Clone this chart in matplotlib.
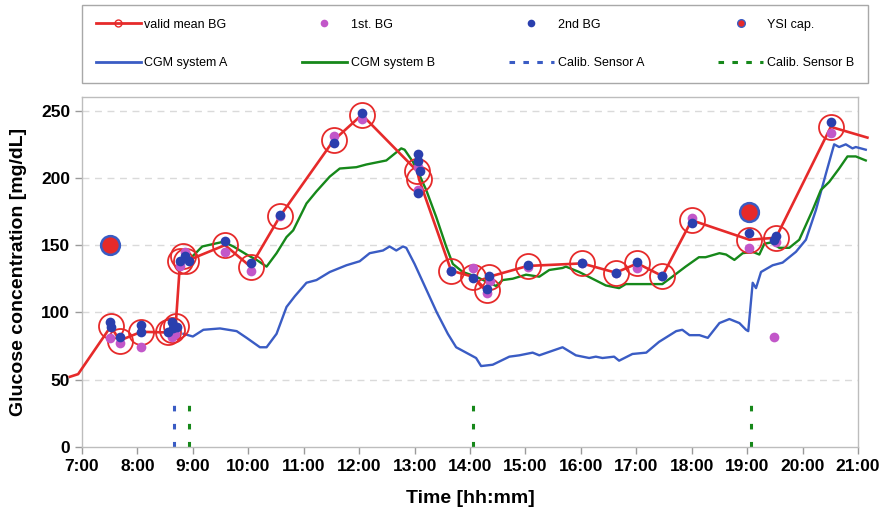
import numpy as np
import matplotlib
matplotlib.use("Agg")
import matplotlib.pyplot as plt
from matplotlib.lines import Line2D

plt.rcParams['font.family'] = ['Liberation Sans', 'DejaVu Sans']
plt.rcParams['lines.scale_dashes'] = False

# time in decimal hours, glucose in mg/dL
mean_t = [7.52, 7.68, 8.07, 8.55, 8.62, 8.69, 8.77, 8.83, 8.87, 9.58, 10.04,
          10.58, 11.54, 12.05, 13.05, 13.08, 13.66, 14.05, 14.30, 14.35, 15.04,
          16.02, 16.63, 17.02, 17.47, 18.00, 19.04, 19.52, 20.51]
mean_v = [89.5, 79, 85.5, 85, 87, 90, 138, 142, 138, 150, 134,
          172, 228, 247, 205, 199, 131, 126.5, 116.6, 126.5, 134.5,
          136.4, 129.5, 136.4, 127, 168.5, 154, 155.5, 238]
# red line runs in from the left and out to the right of the rings
lead_t = [6.78, 6.93]
lead_v = [52, 54]
tail_t = [21.17]
tail_v = [230]

bg1_t = [7.50, 7.69, 8.06, 8.62, 8.67, 8.77, 8.85, 9.58, 10.04, 10.58, 11.54,
         12.05, 13.07, 13.06, 13.66, 14.05, 14.30, 14.36, 15.04, 16.02, 16.63,
         17.02, 17.47, 18.00, 19.04, 19.49, 19.52, 20.51]
bg1_v = [81, 77, 74, 82, 84, 134.5, 145, 145, 131, 172, 231,
         244, 208, 191, 131, 133, 114.6, 123, 134, 137, 129,
         132.7, 127, 170, 148, 82, 152, 233.6]

bg2_t = [7.50, 7.53, 7.68, 8.07, 8.07, 8.555, 8.616, 8.645, 8.706, 8.77, 8.856,
         8.933, 9.58, 10.04, 10.58, 11.54, 12.05, 13.06, 13.06, 13.09, 13.07,
         13.66, 14.05, 14.30, 14.35, 15.04, 16.02, 16.63, 17.02, 17.47, 18.00,
         19.04, 19.49, 19.52, 20.51]
bg2_v = [93, 89, 82, 90.5, 85, 85.6, 93, 88, 89, 138.4, 142,
         138.4, 153, 137, 172.4, 225.7, 248.5, 217.8, 212.8, 205.4, 189,
         131, 125.8, 117.5, 127, 135.2, 136.4, 129.5, 137.7, 127, 166.2,
         159.2, 153.8, 156.8, 241.8]

ysi_t = [7.50, 19.04]
ysi_v = [150, 175]

cgm_a_t = [8.83, 9.00, 9.19, 9.49, 9.79, 9.97, 10.21, 10.33, 10.51, 10.69, 10.84,
           11.05, 11.23, 11.47, 11.77, 12.01, 12.19, 12.43, 12.55, 12.67, 12.79,
           12.85, 13.00, 13.20, 13.40, 13.60, 13.75, 13.93, 14.11, 14.20, 14.41,
           14.71, 14.89, 15.13, 15.25, 15.67, 15.91, 16.15, 16.27, 16.39, 16.60,
           16.69, 16.93, 17.18, 17.41, 17.72, 17.83, 17.96, 18.14, 18.29, 18.50,
           18.68, 18.86, 18.98, 19.02, 19.10, 19.16, 19.25, 19.46, 19.64, 19.88,
           20.06, 20.24, 20.42, 20.57, 20.66, 20.78, 20.90, 20.96, 21.14]
cgm_a_v = [84, 82, 87, 88, 86, 81, 74, 74, 84, 104, 112,
           122, 124, 130, 135, 138, 144, 146, 149, 146, 149,
           148, 136, 118, 100, 84, 74, 70, 66, 60, 61,
           67, 68, 70, 68, 74, 68, 66, 67, 66, 67,
           64, 69, 70, 78, 86, 87, 83, 83, 81, 92,
           95, 92, 87, 86, 122, 118, 130, 135, 137, 145,
           154, 176, 203, 225, 223, 225, 222, 223, 221]

cgm_b_t = [8.90, 9.05, 9.17, 9.55, 9.73, 9.97, 10.15, 10.33, 10.51, 10.69, 10.81,
           11.05, 11.23, 11.47, 11.65, 11.95, 12.13, 12.37, 12.49, 12.64, 12.76,
           12.82, 12.97, 13.09, 13.21, 13.39, 13.57, 13.69, 13.87, 14.11, 14.29,
           14.47, 14.59, 14.77, 15.01, 15.25, 15.43, 15.67, 15.73, 15.97, 16.21,
           16.45, 16.69, 16.81, 17.17, 17.47, 17.65, 17.89, 18.13, 18.25, 18.50,
           18.62, 18.77, 18.92, 19.10, 19.22, 19.31, 19.43, 19.58, 19.76, 19.94,
           20.18, 20.33, 20.48, 20.66, 20.81, 20.96, 21.14]
cgm_b_v = [138, 144, 149, 152.5, 149, 143, 139, 134, 144, 156, 161,
           181, 190, 201, 207, 208, 210, 212, 213, 218, 222,
           221, 212, 202, 191, 171, 149, 136, 130, 126.5, 123,
           119.6, 124, 125, 128, 126.5, 131.5, 133, 134, 130, 125,
           120, 118, 121, 121, 121, 126.5, 134, 141, 141, 144,
           143, 139, 144, 145, 143, 151, 152, 148, 148, 154,
           176, 191, 197, 207, 216, 216, 213]

calib_a_t = [8.66]
calib_b_t = [8.93, 14.05, 19.07]
calib_top = 40

hours = list(range(7, 22))
hour_labels = [f"{h}:00" for h in hours]

red = '#e62a2a'
blue_line = '#3a5cc4'
green = '#16881a'
magenta = '#c257c9'
blue_dot = '#2a3fae'

fig = plt.figure(figsize=(8.86, 5.19), dpi=100)
ax = fig.add_axes([82 / 886, 1 - 446.7 / 519, 776 / 886, 349.4 / 519])

ax.set_xlim(7, 21)
ax.set_ylim(0, 260)
ax.set_yticks([0, 50, 100, 150, 200, 250])
ax.set_xticks(hours)
ax.set_xticklabels(hour_labels)
for y in [50, 100, 150, 200, 250]:
    ax.axhline(y, color='#dadada', lw=1, dashes=(5, 4), zorder=0)

for sp in ax.spines.values():
    sp.set_color('#bdbdbd')
    sp.set_linewidth(1)
ax.tick_params(axis='both', colors='#9a9a9a', length=5, width=1)
ax.tick_params(axis='both', labelcolor='black', labelsize=12.5)
for lab in ax.get_xticklabels() + ax.get_yticklabels():
    lab.set_fontweight('bold')

ax.set_xlabel('Time [hh:mm]', fontsize=14, fontweight='bold', labelpad=12)
ax.set_ylabel('Glucose concentration [mg/dL]', fontsize=14, fontweight='bold', labelpad=10)

# calibration markers
for t in calib_a_t:
    ax.plot([t, t], [0, calib_top], color=blue_line, lw=2.2, dashes=(4, 9), zorder=2)
for t in calib_b_t:
    ax.plot([t, t], [0, calib_top], color=green, lw=2.2, dashes=(4, 9), zorder=2)

ax.plot(cgm_a_t, cgm_a_v, color=blue_line, lw=1.7, clip_on=False, zorder=3)
ax.plot(cgm_b_t, cgm_b_v, color=green, lw=1.7, clip_on=False, zorder=3)

ax.plot(lead_t + mean_t + tail_t, lead_v + mean_v + tail_v, color=red, lw=1.9,
        clip_on=False, zorder=4)
ax.plot(mean_t, mean_v, ls='none', marker='o', ms=18, mfc='none', mec=red,
        mew=1.3, zorder=5)

ax.plot(bg1_t, bg1_v, ls='none', marker='o', ms=7, color=magenta, mec='none', zorder=6)
ax.plot(bg2_t, bg2_v, ls='none', marker='o', ms=7, color=blue_dot, mec='none', zorder=7)
ax.plot(ysi_t, ysi_v, ls='none', marker='o', ms=13.5, mfc=red, mec=blue_line, mew=1.8, zorder=8)

handles = [
    Line2D([], [], color=red, lw=2, marker='o', ms=5, mfc='none', mec=red, mew=1),
    Line2D([], [], color=blue_line, lw=2),
    Line2D([], [], ls='none', marker='o', ms=5.5, color=magenta, mec='none'),
    Line2D([], [], color=green, lw=2),
    Line2D([], [], ls='none', marker='o', ms=5.5, color=blue_dot, mec='none'),
    Line2D([], [], color=blue_line, lw=2.2, dashes=(4, 6)),
    Line2D([], [], ls='none', marker='o', ms=5.5, mfc=red, mec=blue_line, mew=1),
    Line2D([], [], color=green, lw=2.2, dashes=(4, 6)),
]
labels = ['valid mean BG', 'CGM system A', '1st. BG', 'CGM system B',
          '2nd BG', 'Calib. Sensor A', 'YSI cap.', 'Calib. Sensor B']
leg = fig.legend(handles, labels, ncol=4, mode='expand', loc='upper left',
                 bbox_to_anchor=(82 / 886, 1 - 5 / 519, 786 / 886, 0),
                 borderaxespad=0, fontsize=9, handlelength=3.6, handletextpad=0.3,
                 labelspacing=2.1, borderpad=1.1, fancybox=False, framealpha=1)
leg.get_frame().set_edgecolor('#a8a8a8')
leg.get_frame().set_linewidth(1)

fig.savefig('out.png', dpi=100)
